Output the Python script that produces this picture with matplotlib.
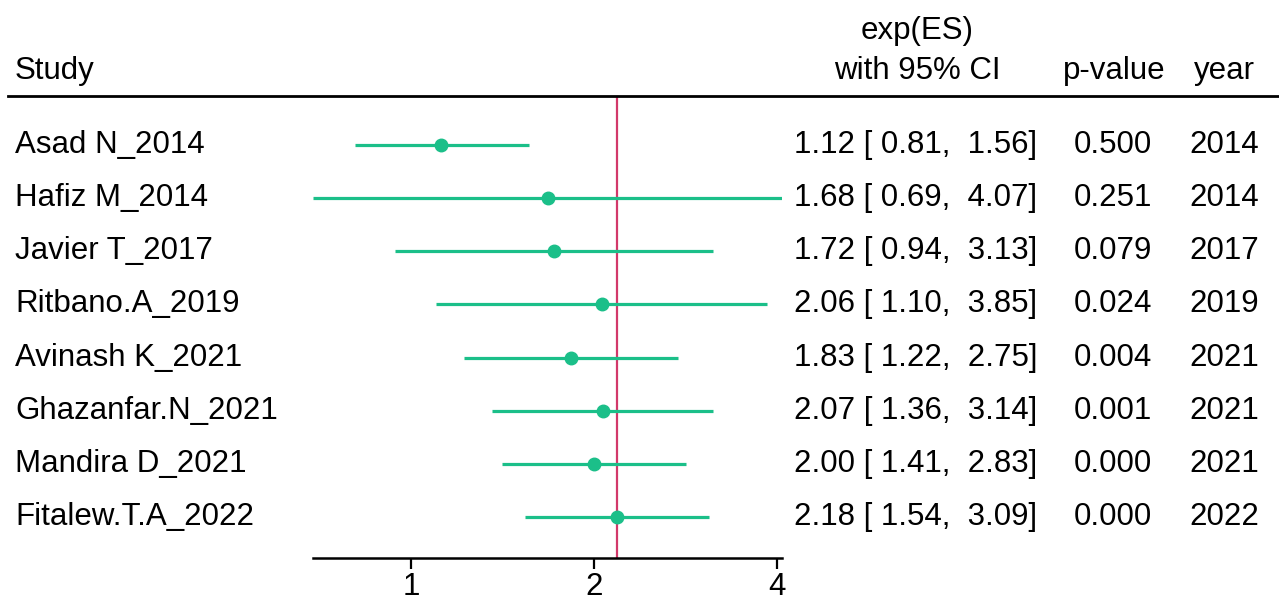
import matplotlib
matplotlib.use("Agg")
import matplotlib.pyplot as plt
from matplotlib.transforms import blended_transform_factory

plt.rcParams['font.family'] = ['Liberation Sans', 'DejaVu Sans']

# cumulative meta-analysis results
studies = ["Asad N_2014", "Hafiz M_2014", "Javier T_2017", "Ritbano.A_2019",
           "Avinash K_2021", "Ghazanfar.N_2021", "Mandira D_2021", "Fitalew.T.A_2022"]
es = [1.12, 1.68, 1.72, 2.06, 1.83, 2.07, 2.00, 2.18]
lo = [0.81, 0.69, 0.94, 1.10, 1.22, 1.36, 1.41, 1.54]
hi = [1.56, 4.07, 3.13, 3.85, 2.75, 3.14, 2.83, 3.09]
pval = ["0.500", "0.251", "0.079", "0.024", "0.004", "0.001", "0.000", "0.000"]
years = [2014, 2014, 2017, 2019, 2021, 2021, 2021, 2022]
overall = 2.18
xticks = [1, 2, 4]

green = "#1bbf89"
red = "#d2386a"
fs = 22.5

W, H = 1279, 601
fig = plt.figure(figsize=(W / 100, H / 100), dpi=100)

# forest panel: from header rule (y=96) down to the axis (y=558)
ax = fig.add_axes([313 / W, 1 - 558 / H, (782 - 313) / W, (558 - 96) / H])
ax.set_xscale("log")
ax.set_xlim(min(lo), max(hi))
n = len(studies)
step = 53.14  # px between rows
top = (145 - 96) / step
ax.set_ylim((558 - 96) / step - top, -top)

for i in range(n):
    ax.plot([lo[i], hi[i]], [i, i], color=green, lw=2.3, solid_capstyle="butt", zorder=2)
ax.plot(es, range(n), "o", color=green, ms=9, zorder=3)
ax.axvline(overall, color=red, lw=1.6, zorder=1)

for s in ["top", "right", "left"]:
    ax.spines[s].set_visible(False)
ax.spines["bottom"].set_linewidth(1.8)
ax.set_yticks([])
ax.set_xticks(xticks)
ax.set_xticklabels([str(t) for t in xticks])
ax.xaxis.set_minor_locator(plt.NullLocator())
ax.tick_params(axis="x", length=8, width=1.6, labelsize=fs, pad=2)

# text columns
tr = blended_transform_factory(fig.transFigure, ax.transData)
for i in range(n):
    ax.text(15 / W, i, studies[i], transform=tr, ha="left", va="center", fontsize=fs)
    ci = "%.2f [%5.2f, %5.2f]" % (es[i], lo[i], hi[i])
    ax.text(1037 / W, i, ci, transform=tr, ha="right", va="center", fontsize=fs)
    ax.text(1113 / W, i, pval[i], transform=tr, ha="center", va="center", fontsize=fs)
    ax.text(1224 / W, i, str(years[i]), transform=tr, ha="center", va="center", fontsize=fs)

# headers
fig.text(15 / W, 1 - 71 / H, "Study", ha="left", va="center", fontsize=fs)
fig.text(917 / W, 1 - 31 / H, "exp(ES)", ha="center", va="center", fontsize=fs)
fig.text(917 / W, 1 - 71 / H, "with 95% CI", ha="center", va="center", fontsize=fs)
fig.text(1114 / W, 1 - 71 / H, "p-value", ha="center", va="center", fontsize=fs)
fig.text(1224 / W, 1 - 71 / H, "year", ha="center", va="center", fontsize=fs)
fig.add_artist(plt.Line2D([8 / W, 1], [1 - 96 / H, 1 - 96 / H], color="black", lw=2))

fig.savefig("out.png", dpi=100, facecolor="white")
